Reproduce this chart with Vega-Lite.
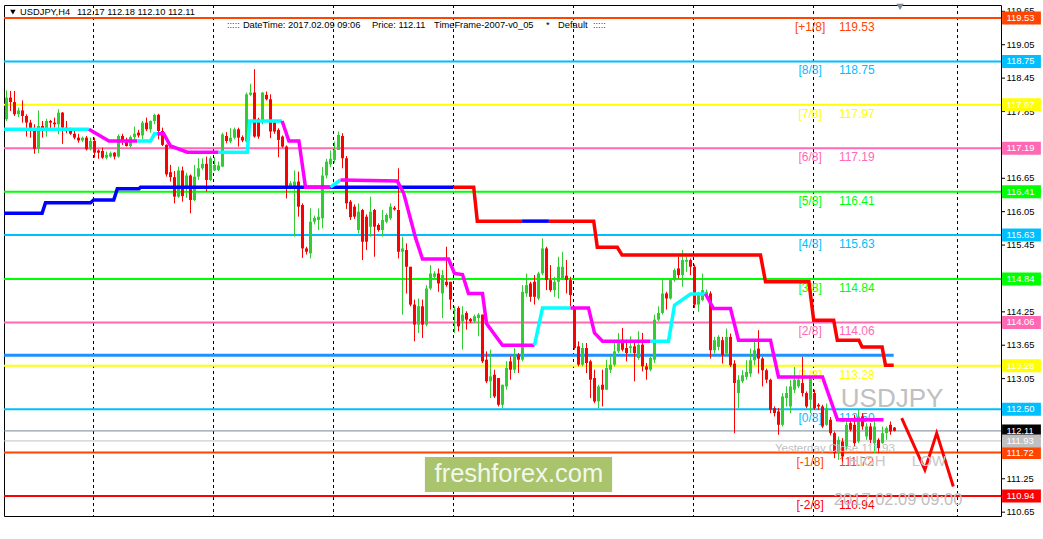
{
"$schema": "https://vega.github.io/schema/vega-lite/v6.json",
"width": 997, "height": 511,
"autosize": {"type": "none"},
"padding": {"left": 4, "top": 5, "right": 42, "bottom": 23},
"background": "#FFFFFF",
"config": {"view": {"stroke": "#000000", "strokeWidth": 1}, "font": "Liberation Sans", "text": {"font": "Liberation Sans"}},
"resolve": {"scale": {"color": "independent"}},
"datasets": {
"weeks": [{"w":21.75},{"w":51.75},{"w":81.75},{"w":111.75},{"w":141.75},{"w":171.75},{"w":201.75},{"w":237.75}],
"yticks": [{"v":110.65},{"v":111.25},{"v":112.45},{"v":113.05},{"v":113.65},{"v":114.25},{"v":115.45},{"v":116.05},{"v":116.65},{"v":117.85},{"v":118.45},{"v":119.05},{"v":119.65}],
"levels": [{"p":119.53,"tag":"[+1/8]"},{"p":118.75,"tag":"[8/8]"},{"p":117.97,"tag":"[7/8]"},{"p":117.19,"tag":"[6/8]"},{"p":116.41,"tag":"[5/8]"},{"p":115.63,"tag":"[4/8]"},{"p":114.84,"tag":"[3/8]"},{"p":114.06,"tag":"[2/8]"},{"p":113.28,"tag":"[1/8]"},{"p":112.50,"tag":"[0/8]"},{"p":111.72,"tag":"[-1/8]"},{"p":110.94,"tag":"[-2/8]"}],
"extra": [{"p":112.11,"tag":"cur"},{"p":111.93,"tag":"yc"}],
"bars": [
{"i":0,"o":117.71,"h":118.23,"l":117.68,"c":118.10},{"i":1,"o":118.10,"h":118.22,"l":117.86,"c":118.02},{"i":2,"o":118.02,"h":118.22,"l":117.77,"c":117.80},{"i":3,"o":117.80,"h":117.92,"l":117.75,"c":117.87},{"i":4,"o":117.87,"h":118.05,"l":117.65,"c":117.77},{"i":5,"o":117.77,"h":117.80,"l":117.40,"c":117.65},{"i":6,"o":117.65,"h":117.70,"l":117.38,"c":117.55},{"i":7,"o":117.55,"h":117.62,"l":117.09,"c":117.18},{"i":8,"o":117.18,"h":117.87,"l":117.10,"c":117.59},{"i":9,"o":117.59,"h":117.68,"l":117.38,"c":117.53},
{"i":10,"o":117.53,"h":117.72,"l":117.40,"c":117.68},{"i":11,"o":117.68,"h":117.70,"l":117.52,"c":117.65},{"i":12,"o":117.65,"h":117.74,"l":117.56,"c":117.62},{"i":13,"o":117.62,"h":117.89,"l":117.44,"c":117.83},{"i":14,"o":117.83,"h":117.84,"l":117.27,"c":117.56},{"i":15,"o":117.56,"h":117.68,"l":117.46,"c":117.53},{"i":16,"o":117.53,"h":117.56,"l":117.43,"c":117.45},{"i":17,"o":117.45,"h":117.50,"l":117.35,"c":117.38},{"i":18,"o":117.38,"h":117.45,"l":117.29,"c":117.33},{"i":19,"o":117.33,"h":117.40,"l":117.30,"c":117.38},
{"i":20,"o":117.38,"h":117.41,"l":117.15,"c":117.17},{"i":21,"o":117.17,"h":117.38,"l":117.15,"c":117.32},{"i":22,"o":117.32,"h":117.38,"l":117.02,"c":117.11},{"i":23,"o":117.15,"h":117.17,"l":117.00,"c":117.11},{"i":24,"o":117.14,"h":117.20,"l":117.00,"c":117.02},{"i":25,"o":117.02,"h":117.13,"l":116.99,"c":117.07},{"i":26,"o":117.04,"h":117.13,"l":117.02,"c":117.10},{"i":27,"o":117.11,"h":117.12,"l":116.99,"c":117.04},{"i":28,"o":117.04,"h":117.44,"l":117.02,"c":117.41},{"i":29,"o":117.41,"h":117.45,"l":117.25,"c":117.32},
{"i":30,"o":117.32,"h":117.38,"l":117.22,"c":117.23},{"i":31,"o":117.23,"h":117.42,"l":117.20,"c":117.39},{"i":32,"o":117.39,"h":117.58,"l":117.35,"c":117.45},{"i":33,"o":117.47,"h":117.52,"l":117.38,"c":117.42},{"i":34,"o":117.42,"h":117.68,"l":117.35,"c":117.65},{"i":35,"o":117.65,"h":117.74,"l":117.50,"c":117.53},{"i":36,"o":117.53,"h":117.69,"l":117.47,"c":117.68},{"i":37,"o":117.68,"h":117.81,"l":117.62,"c":117.79},{"i":38,"o":117.79,"h":117.81,"l":117.35,"c":117.50},{"i":39,"o":117.50,"h":117.56,"l":117.23,"c":117.25},
{"i":40,"o":117.25,"h":117.26,"l":116.68,"c":116.72},{"i":41,"o":116.76,"h":116.89,"l":116.59,"c":116.67},{"i":42,"o":116.67,"h":116.78,"l":116.20,"c":116.32},{"i":43,"o":116.32,"h":116.86,"l":116.30,"c":116.79},{"i":44,"o":116.79,"h":116.86,"l":116.23,"c":116.33},{"i":45,"o":116.50,"h":116.75,"l":116.30,"c":116.70},{"i":46,"o":116.70,"h":116.72,"l":116.02,"c":116.26},{"i":47,"o":116.26,"h":116.89,"l":116.24,"c":116.68},{"i":48,"o":116.68,"h":117.01,"l":116.62,"c":116.83},{"i":49,"o":116.83,"h":117.01,"l":116.80,"c":116.91},
{"i":50,"o":116.91,"h":117.04,"l":116.41,"c":116.62},{"i":51,"o":116.62,"h":117.04,"l":116.60,"c":117.01},{"i":52,"o":116.79,"h":117.03,"l":116.78,"c":116.89},{"i":53,"o":116.80,"h":116.95,"l":116.78,"c":116.88},{"i":54,"o":116.86,"h":117.47,"l":116.85,"c":117.44},{"i":55,"o":117.41,"h":117.48,"l":117.28,"c":117.32},{"i":56,"o":117.31,"h":117.55,"l":117.28,"c":117.38},{"i":57,"o":117.38,"h":117.56,"l":117.35,"c":117.53},{"i":58,"o":117.53,"h":117.56,"l":117.22,"c":117.38},{"i":59,"o":117.39,"h":117.42,"l":117.30,"c":117.33},
{"i":60,"o":117.31,"h":118.19,"l":117.29,"c":118.16},{"i":61,"o":118.15,"h":118.35,"l":118.13,"c":118.19},{"i":62,"o":118.19,"h":118.61,"l":117.38,"c":117.40},{"i":63,"o":117.71,"h":117.74,"l":117.36,"c":117.40},{"i":64,"o":117.68,"h":118.20,"l":117.62,"c":118.19},{"i":65,"o":118.15,"h":118.21,"l":118.05,"c":118.07},{"i":66,"o":118.07,"h":118.16,"l":117.37,"c":117.49},{"i":67,"o":117.65,"h":117.68,"l":117.45,"c":117.49},{"i":68,"o":117.52,"h":117.55,"l":117.03,"c":117.34},{"i":69,"o":117.40,"h":117.42,"l":117.20,"c":117.22},
{"i":70,"o":117.22,"h":117.24,"l":116.29,"c":116.47},{"i":71,"o":116.50,"h":116.60,"l":116.45,"c":116.56},{"i":72,"o":116.50,"h":116.79,"l":115.60,"c":116.59},{"i":73,"o":116.59,"h":116.77,"l":115.96,"c":116.14},{"i":74,"o":116.17,"h":116.20,"l":115.22,"c":115.39},{"i":75,"o":115.39,"h":115.42,"l":115.28,"c":115.33},{"i":76,"o":115.30,"h":116.11,"l":115.21,"c":115.87},{"i":77,"o":115.87,"h":115.98,"l":115.82,"c":115.94},{"i":78,"o":115.90,"h":116.11,"l":115.72,"c":115.96},{"i":79,"o":115.93,"h":116.85,"l":115.75,"c":116.70},
{"i":80,"o":116.70,"h":117.00,"l":116.65,"c":116.95},{"i":81,"o":116.90,"h":117.15,"l":116.85,"c":117.00},{"i":82,"o":116.98,"h":117.31,"l":116.93,"c":117.16},{"i":83,"o":117.16,"h":117.49,"l":117.16,"c":117.43},{"i":84,"o":117.41,"h":117.46,"l":116.83,"c":117.01},{"i":85,"o":117.01,"h":117.05,"l":116.10,"c":116.20},{"i":86,"o":116.23,"h":116.26,"l":115.90,"c":115.95},{"i":87,"o":116.14,"h":116.18,"l":115.92,"c":115.96},{"i":88,"o":115.72,"h":116.20,"l":115.66,"c":116.05},{"i":89,"o":116.08,"h":116.10,"l":115.18,"c":115.51},
{"i":90,"o":115.96,"h":116.00,"l":115.36,"c":115.51},{"i":91,"o":115.78,"h":116.32,"l":115.60,"c":116.05},{"i":92,"o":116.08,"h":116.10,"l":115.24,"c":115.78},{"i":93,"o":115.81,"h":115.84,"l":115.69,"c":115.72},{"i":94,"o":115.72,"h":116.08,"l":115.60,"c":115.90},{"i":95,"o":115.87,"h":116.02,"l":115.84,"c":115.99},{"i":96,"o":115.93,"h":116.20,"l":115.90,"c":116.14},{"i":97,"o":116.12,"h":116.15,"l":116.07,"c":116.09},{"i":98,"o":116.08,"h":116.83,"l":115.21,"c":115.33},{"i":99,"o":115.33,"h":115.60,"l":114.20,"c":115.39},
{"i":100,"o":115.36,"h":115.48,"l":114.58,"c":115.06},{"i":101,"o":115.06,"h":115.06,"l":114.35,"c":114.38},{"i":102,"o":114.38,"h":114.47,"l":113.72,"c":114.02},{"i":103,"o":114.02,"h":114.49,"l":113.87,"c":114.35},{"i":104,"o":114.35,"h":114.47,"l":113.78,"c":114.02},{"i":105,"o":114.02,"h":114.73,"l":113.99,"c":114.67},{"i":106,"o":114.67,"h":115.09,"l":114.64,"c":114.94},{"i":107,"o":114.88,"h":114.98,"l":114.85,"c":114.94},{"i":108,"o":114.94,"h":115.03,"l":114.61,"c":114.76},{"i":109,"o":114.58,"h":115.00,"l":114.14,"c":114.91},
{"i":110,"o":114.79,"h":115.42,"l":114.70,"c":114.73},{"i":111,"o":114.79,"h":114.79,"l":114.29,"c":114.47},{"i":112,"o":114.27,"h":114.35,"l":113.87,"c":114.29},{"i":113,"o":114.32,"h":114.35,"l":113.90,"c":113.99},{"i":114,"o":114.08,"h":114.35,"l":113.57,"c":114.20},{"i":115,"o":114.23,"h":114.26,"l":113.93,"c":114.11},{"i":116,"o":114.12,"h":114.14,"l":114.05,"c":114.08},{"i":117,"o":114.08,"h":114.20,"l":114.05,"c":114.17},{"i":118,"o":114.14,"h":114.23,"l":113.81,"c":114.20},{"i":119,"o":114.20,"h":114.20,"l":113.33,"c":113.36},
{"i":120,"o":113.39,"h":113.54,"l":112.97,"c":113.00},{"i":121,"o":113.00,"h":113.57,"l":112.70,"c":113.09},{"i":122,"o":113.12,"h":113.21,"l":112.70,"c":112.73},{"i":123,"o":113.06,"h":113.06,"l":112.55,"c":112.58},{"i":124,"o":112.58,"h":112.94,"l":112.52,"c":112.94},{"i":125,"o":112.91,"h":113.36,"l":112.85,"c":113.24},{"i":126,"o":113.36,"h":113.45,"l":113.03,"c":113.21},{"i":127,"o":113.21,"h":113.60,"l":113.15,"c":113.45},{"i":128,"o":113.48,"h":113.51,"l":113.15,"c":113.39},{"i":129,"o":113.39,"h":114.73,"l":113.36,"c":114.61},
{"i":130,"o":114.58,"h":114.94,"l":114.52,"c":114.73},{"i":131,"o":114.76,"h":114.79,"l":114.43,"c":114.52},{"i":132,"o":114.79,"h":114.91,"l":114.38,"c":114.52},{"i":133,"o":114.49,"h":114.97,"l":114.46,"c":114.94},{"i":134,"o":114.94,"h":115.57,"l":114.91,"c":115.39},{"i":135,"o":115.39,"h":115.42,"l":114.64,"c":114.82},{"i":136,"o":114.82,"h":115.09,"l":114.61,"c":114.64},{"i":137,"o":114.64,"h":114.88,"l":114.52,"c":114.79},{"i":138,"o":114.79,"h":115.24,"l":114.49,"c":115.06},{"i":139,"o":114.85,"h":115.33,"l":114.82,"c":115.06},
{"i":140,"o":114.90,"h":115.18,"l":114.58,"c":114.82},{"i":141,"o":114.82,"h":114.88,"l":114.35,"c":114.55},{"i":142,"o":114.32,"h":114.35,"l":113.57,"c":113.60},{"i":143,"o":113.63,"h":113.72,"l":113.27,"c":113.30},{"i":144,"o":113.30,"h":113.69,"l":113.27,"c":113.60},{"i":145,"o":113.60,"h":113.69,"l":113.15,"c":113.33},{"i":146,"o":113.36,"h":113.39,"l":112.70,"c":113.03},{"i":147,"o":113.06,"h":113.21,"l":112.61,"c":112.64},{"i":148,"o":112.64,"h":112.94,"l":112.52,"c":112.91},{"i":149,"o":112.94,"h":113.21,"l":112.55,"c":112.85},
{"i":150,"o":112.85,"h":113.39,"l":112.85,"c":113.24},{"i":151,"o":113.21,"h":113.45,"l":113.15,"c":113.30},{"i":152,"o":113.30,"h":113.72,"l":113.27,"c":113.54},{"i":153,"o":113.54,"h":113.87,"l":113.51,"c":113.72},{"i":154,"o":113.75,"h":113.96,"l":113.54,"c":113.57},{"i":155,"o":113.60,"h":113.75,"l":113.36,"c":113.51},{"i":156,"o":113.60,"h":113.81,"l":113.51,"c":113.63},{"i":157,"o":113.63,"h":113.72,"l":113.00,"c":113.51},{"i":158,"o":113.42,"h":113.90,"l":113.39,"c":113.66},{"i":159,"o":113.66,"h":113.87,"l":113.18,"c":113.27},
{"i":160,"o":113.27,"h":113.33,"l":113.03,"c":113.21},{"i":161,"o":113.21,"h":113.45,"l":113.18,"c":113.42},{"i":162,"o":113.39,"h":114.20,"l":113.33,"c":114.11},{"i":163,"o":114.11,"h":114.35,"l":114.08,"c":114.23},{"i":164,"o":114.23,"h":114.82,"l":114.20,"c":114.58},{"i":165,"o":114.58,"h":114.61,"l":114.29,"c":114.49},{"i":166,"o":114.49,"h":114.85,"l":114.47,"c":114.82},{"i":167,"o":114.82,"h":115.03,"l":114.79,"c":115.00},{"i":168,"o":115.03,"h":115.24,"l":114.85,"c":114.91},{"i":169,"o":114.91,"h":115.36,"l":114.70,"c":115.18},
{"i":170,"o":115.15,"h":115.24,"l":114.97,"c":115.18},{"i":171,"o":115.18,"h":115.21,"l":114.91,"c":115.06},{"i":172,"o":115.06,"h":115.10,"l":114.32,"c":114.38},{"i":173,"o":114.38,"h":114.61,"l":114.25,"c":114.56},{"i":174,"o":114.46,"h":114.94,"l":114.44,"c":114.64},{"i":175,"o":114.55,"h":114.65,"l":114.52,"c":114.61},{"i":176,"o":114.58,"h":114.62,"l":113.41,"c":113.56},{"i":177,"o":113.56,"h":113.80,"l":113.50,"c":113.74},{"i":178,"o":113.62,"h":113.83,"l":113.56,"c":113.80},{"i":179,"o":113.74,"h":113.80,"l":113.32,"c":113.47},
{"i":180,"o":113.50,"h":113.95,"l":113.47,"c":113.80},{"i":181,"o":113.80,"h":113.86,"l":113.26,"c":113.29},{"i":182,"o":113.32,"h":113.38,"l":112.07,"c":112.97},{"i":183,"o":112.79,"h":113.11,"l":112.52,"c":113.03},{"i":184,"o":113.00,"h":113.20,"l":112.97,"c":113.11},{"i":185,"o":113.08,"h":113.38,"l":113.03,"c":113.17},{"i":186,"o":113.14,"h":113.59,"l":113.08,"c":113.38},{"i":187,"o":113.38,"h":113.74,"l":113.29,"c":113.56},{"i":188,"o":113.59,"h":113.92,"l":113.14,"c":113.41},{"i":189,"o":113.41,"h":113.44,"l":112.91,"c":113.20},
{"i":190,"o":113.20,"h":113.23,"l":112.97,"c":113.03},{"i":191,"o":113.03,"h":113.05,"l":112.43,"c":112.49},{"i":192,"o":112.52,"h":112.55,"l":112.37,"c":112.43},{"i":193,"o":112.46,"h":112.52,"l":112.04,"c":112.22},{"i":194,"o":112.22,"h":112.79,"l":112.19,"c":112.73},{"i":195,"o":112.70,"h":112.91,"l":112.55,"c":112.79},{"i":196,"o":112.55,"h":113.03,"l":112.43,"c":112.91},{"i":197,"o":112.85,"h":113.26,"l":112.79,"c":113.03},{"i":198,"o":112.91,"h":113.08,"l":112.88,"c":113.03},{"i":199,"o":112.97,"h":113.44,"l":112.73,"c":112.79},
{"i":200,"o":112.79,"h":112.82,"l":112.52,"c":112.55},{"i":201,"o":112.67,"h":113.08,"l":112.43,"c":113.05},{"i":202,"o":112.79,"h":112.85,"l":112.49,"c":112.52},{"i":203,"o":112.58,"h":112.61,"l":112.49,"c":112.55},{"i":204,"o":112.55,"h":112.58,"l":112.16,"c":112.19},{"i":205,"o":112.22,"h":112.60,"l":112.20,"c":112.52},{"i":206,"o":112.31,"h":112.36,"l":112.03,"c":112.07},{"i":207,"o":112.07,"h":112.10,"l":111.62,"c":111.71},{"i":208,"o":111.71,"h":112.01,"l":111.59,"c":111.95},{"i":209,"o":111.92,"h":111.98,"l":111.56,"c":111.65},
{"i":210,"o":111.83,"h":112.28,"l":111.77,"c":112.22},{"i":211,"o":112.25,"h":112.30,"l":112.10,"c":112.13},{"i":212,"o":112.22,"h":112.40,"l":111.83,"c":111.89},{"i":213,"o":111.92,"h":112.49,"l":111.89,"c":112.37},{"i":214,"o":112.37,"h":112.43,"l":112.13,"c":112.19},{"i":215,"o":112.01,"h":112.25,"l":111.95,"c":112.19},{"i":216,"o":112.19,"h":112.25,"l":111.89,"c":111.95},{"i":217,"o":111.89,"h":112.31,"l":111.71,"c":112.19},{"i":218,"o":111.95,"h":111.98,"l":111.71,"c":111.80},{"i":219,"o":111.89,"h":112.19,"l":111.88,"c":112.07},
{"i":220,"o":112.07,"h":112.19,"l":111.95,"c":112.16},{"i":221,"o":112.22,"h":112.28,"l":112.04,"c":112.10},{"i":222,"o":112.17,"h":112.18,"l":112.10,"c":112.11}
],
"lineA": [
{"i":-0.6,"v":116.02,"t":"up","s":"a1"},{"i":8.9,"v":116.02,"t":"up","s":"a1"},{"i":9.75,"v":116.21,"t":"up","s":"a1"},{"i":21,"v":116.21,"t":"up","s":"a1"},{"i":21.8,"v":116.26,"t":"up","s":"a1"},{"i":26.8,"v":116.26,"t":"up","s":"a1"},{"i":27.7,"v":116.46,"t":"up","s":"a1"},{"i":33.1,"v":116.46,"t":"up","s":"a1"},{"i":33.5,"v":116.49,"t":"up","s":"a1"},{"i":111.75,"v":116.49,"t":"up","s":"a1"},
{"i":111.75,"v":116.49,"t":"dn","s":"a2"},{"i":116.8,"v":116.49,"t":"dn","s":"a2"},{"i":117.7,"v":115.88,"t":"dn","s":"a2"},{"i":128.9,"v":115.88,"t":"dn","s":"a2"},
{"i":128.9,"v":115.88,"t":"up","s":"a3"},{"i":135.6,"v":115.88,"t":"up","s":"a3"},
{"i":135.6,"v":115.88,"t":"dn","s":"a4"},{"i":146.8,"v":115.88,"t":"dn","s":"a4"},{"i":147.7,"v":115.41,"t":"dn","s":"a4"},{"i":152.7,"v":115.41,"t":"dn","s":"a4"},{"i":153.9,"v":115.27,"t":"dn","s":"a4"},{"i":188.5,"v":115.27,"t":"dn","s":"a4"},{"i":189.75,"v":114.79,"t":"dn","s":"a4"},{"i":200.6,"v":114.79,"t":"dn","s":"a4"},{"i":201.8,"v":114.10,"t":"dn","s":"a4"},{"i":206.8,"v":114.10,"t":"dn","s":"a4"},{"i":207.7,"v":113.74,"t":"dn","s":"a4"},{"i":213.1,"v":113.74,"t":"dn","s":"a4"},{"i":213.9,"v":113.62,"t":"dn","s":"a4"},{"i":218.9,"v":113.62,"t":"dn","s":"a4"},{"i":219.75,"v":113.29,"t":"dn","s":"a4"},{"i":221.8,"v":113.29,"t":"dn","s":"a4"}
],
"lineB": [
{"i":-0.6,"v":117.53,"t":"up","s":"b1"},{"i":20.6,"v":117.53,"t":"up","s":"b1"},
{"i":20.6,"v":117.53,"t":"dn","s":"b2"},{"i":25.6,"v":117.32,"t":"dn","s":"b2"},{"i":32.7,"v":117.32,"t":"dn","s":"b2"},
{"i":32.7,"v":117.32,"t":"up","s":"b3"},{"i":36,"v":117.32,"t":"up","s":"b3"},{"i":37,"v":117.45,"t":"up","s":"b3"},{"i":37.7,"v":117.45,"t":"up","s":"b3"},
{"i":37.7,"v":117.45,"t":"dn","s":"b4"},{"i":39.3,"v":117.45,"t":"dn","s":"b4"},{"i":41,"v":117.23,"t":"dn","s":"b4"},{"i":45.2,"v":117.12,"t":"dn","s":"b4"},{"i":53,"v":117.12,"t":"dn","s":"b4"},
{"i":53,"v":117.12,"t":"up","s":"b5"},{"i":60.2,"v":117.12,"t":"up","s":"b5"},{"i":60.8,"v":117.68,"t":"up","s":"b5"},{"i":68.9,"v":117.68,"t":"up","s":"b5"},
{"i":68.9,"v":117.68,"t":"dn","s":"b6"},{"i":70.6,"v":117.32,"t":"dn","s":"b6"},{"i":73.1,"v":117.32,"t":"dn","s":"b6"},{"i":74.75,"v":116.49,"t":"dn","s":"b6"},{"i":81,"v":116.49,"t":"dn","s":"b6"},
{"i":81,"v":116.49,"t":"up","s":"b7"},{"i":83.5,"v":116.62,"t":"up","s":"b7"},
{"i":83.5,"v":116.62,"t":"dn","s":"b8"},{"i":97.7,"v":116.60,"t":"dn","s":"b8"},{"i":99.3,"v":116.38,"t":"dn","s":"b8"},{"i":102.3,"v":115.57,"t":"dn","s":"b8"},{"i":104,"v":115.20,"t":"dn","s":"b8"},{"i":110.5,"v":115.20,"t":"dn","s":"b8"},{"i":112,"v":114.94,"t":"dn","s":"b8"},{"i":114,"v":114.92,"t":"dn","s":"b8"},{"i":115.5,"v":114.58,"t":"dn","s":"b8"},{"i":119,"v":114.58,"t":"dn","s":"b8"},{"i":120,"v":114.04,"t":"dn","s":"b8"},{"i":124,"v":113.65,"t":"dn","s":"b8"},{"i":132,"v":113.65,"t":"dn","s":"b8"},
{"i":132,"v":113.65,"t":"up","s":"b9"},{"i":134,"v":114.32,"t":"up","s":"b9"},{"i":141,"v":114.32,"t":"up","s":"b9"},
{"i":141,"v":114.32,"t":"dn","s":"b10"},{"i":145.5,"v":114.32,"t":"dn","s":"b10"},{"i":147,"v":113.87,"t":"dn","s":"b10"},{"i":149,"v":113.72,"t":"dn","s":"b10"},{"i":161,"v":113.72,"t":"dn","s":"b10"},
{"i":161,"v":113.72,"t":"up","s":"b11"},{"i":165.5,"v":113.72,"t":"up","s":"b11"},{"i":167,"v":114.37,"t":"up","s":"b11"},{"i":171,"v":114.57,"t":"up","s":"b11"},{"i":174.75,"v":114.57,"t":"up","s":"b11"},
{"i":174.75,"v":114.57,"t":"dn","s":"b12"},{"i":176.75,"v":114.31,"t":"dn","s":"b12"},{"i":181,"v":114.31,"t":"dn","s":"b12"},{"i":183,"v":113.74,"t":"dn","s":"b12"},{"i":191,"v":113.74,"t":"dn","s":"b12"},{"i":193,"v":113.08,"t":"dn","s":"b12"},{"i":204,"v":113.08,"t":"dn","s":"b12"},{"i":207.75,"v":112.31,"t":"dn","s":"b12"},{"i":219.25,"v":112.31,"t":"dn","s":"b12"}
],
"zig": [{"i":223.8,"v":112.34},{"i":229.6,"v":111.41},{"i":232.55,"v":112.07},{"i":236.7,"v":111.11}],
"header": [{"t":"USDJPY,H4","i":3.4,"v":119.638},{"t":"112.17 112.18 112.10 112.11","i":17.6,"v":119.638},{"t":"DateTime: 2017.02.09 09:06","i":59.1,"v":119.404},{"t":"Price: 112.11","i":91.4,"v":119.404},{"t":"TimeFrame-2007-v0_05","i":106.9,"v":119.404},{"t":"*","i":134.9,"v":119.404},{"t":"Default","i":137.9,"v":119.404}],
"colons": [{"t":":::::","i":55.1,"v":119.404},{"t":":::::","i":146.6,"v":119.404}]
},
"layer": [
{"data":{"name":"weeks"},"mark":{"type":"rule","strokeDash":[3,3],"color":"#000000","strokeWidth":1},
 "encoding":{"x":{"field":"w","type":"quantitative","scale":{"domain":[-0.625,248.625],"nice":false,"zero":false},
  "axis":{"values":[-0.25,15.75,31.75,47.75,63.75,79.75,95.75,111.75,127.75,143.75,159.75,175.75,191.75,207.75],
   "labelExpr":"['20 Dec 2016','23 Dec 00:00','27 Dec 16:00','30 Dec 08:00','4 Jan 00:00','6 Jan 16:00','11 Jan 08:00','16 Jan 00:00','18 Jan 16:00','23 Jan 08:00','26 Jan 00:00','30 Jan 16:00','2 Feb 08:00','7 Feb 00:00'][round((datum.value+0.25)/16)]",
   "title":null,"grid":false,"labelAlign":"left","labelBaseline":"top","labelPadding":2,"labelOffset":0.5,"tickSize":4,"labelFont":"Liberation Sans","labelFontSize":9.2,"labelColor":"#000000","tickColor":"#000000","domainColor":"#000000","labelFlush":false,"labelOverlap":false,"labelBound":false}}}},
{"data":{"name":"levels"},"mark":{"type":"rule","strokeWidth":2},
 "encoding":{"y":{"field":"p","type":"quantitative","scale":{"domain":[110.581,119.764],"nice":false,"zero":false},"axis":null},
  "color":{"field":"tag","type":"nominal","scale":{"domain":["[+1/8]","[8/8]","[7/8]","[6/8]","[5/8]","[4/8]","[3/8]","[2/8]","[1/8]","[0/8]","[-1/8]","[-2/8]"],"range":["#FF4500","#00BFFF","#FFFF00","#FF69B4","#00FF00","#00BFFF","#00FF00","#FF69B4","#FFFF00","#00BFFF","#FF4500","#FF0000"]},"legend":null}}},
{"data":{"name":"yticks"},"mark":{"type":"rule","strokeWidth":1,"color":"#000000"},
 "encoding":{"x":{"datum":248.625,"type":"quantitative","axis":null},"x2":{"datum":249.625},"y":{"field":"v","type":"quantitative","axis":null}}},
{"data":{"name":"yticks"},"mark":{"type":"text","fontSize":9.4,"color":"#000000","align":"left","baseline":"middle","font":"Liberation Sans"},
 "encoding":{"x":{"datum":250.0,"type":"quantitative","axis":null},"y":{"field":"v","type":"quantitative","axis":null},"text":{"field":"v","type":"quantitative","format":".2f"}}},
{"data":{"name":"extra"},"mark":{"type":"rule","strokeWidth":1},
 "encoding":{"y":{"field":"p","type":"quantitative","axis":null},"color":{"field":"tag","type":"nominal","scale":{"domain":["cur","yc"],"range":["#778899","#C0C0C0"]},"legend":null}}},
{"data":{"values":[{"p":113.47,"a":-0.6,"b":221.8}]},"mark":{"type":"rule","strokeWidth":3,"color":"#1E90FF"},
 "encoding":{"x":{"field":"a","type":"quantitative","axis":null},"x2":{"field":"b"},"y":{"field":"p","type":"quantitative","axis":null}}},
{"data":{"name":"levels"},"mark":{"type":"text","dy":9,"fontSize":12,"align":"center","baseline":"middle","font":"Liberation Sans"},
 "encoding":{"x":{"datum":200.9,"type":"quantitative","axis":null},"y":{"field":"p","type":"quantitative","axis":null},"text":{"field":"tag"},
  "color":{"field":"tag","type":"nominal","scale":{"domain":["[+1/8]","[8/8]","[7/8]","[6/8]","[5/8]","[4/8]","[3/8]","[2/8]","[1/8]","[0/8]","[-1/8]","[-2/8]"],"range":["#FF4500","#00BFFF","#FFFF00","#FF69B4","#00FF00","#00BFFF","#00FF00","#FF69B4","#FFFF00","#00BFFF","#FF4500","#FF0000"]},"legend":null}}},
{"data":{"name":"levels"},"mark":{"type":"text","dy":9,"fontSize":12,"align":"left","baseline":"middle","font":"Liberation Sans"},
 "encoding":{"x":{"datum":208.1,"type":"quantitative","axis":null},"y":{"field":"p","type":"quantitative","axis":null},"text":{"field":"p","type":"quantitative","format":".2f"},
  "color":{"field":"tag","type":"nominal","scale":{"domain":["[+1/8]","[8/8]","[7/8]","[6/8]","[5/8]","[4/8]","[3/8]","[2/8]","[1/8]","[0/8]","[-1/8]","[-2/8]"],"range":["#FF4500","#00BFFF","#FFFF00","#FF69B4","#00FF00","#00BFFF","#00FF00","#FF69B4","#FFFF00","#00BFFF","#FF4500","#FF0000"]},"legend":null}}},
{"data":{"name":"bars"},"mark":{"type":"rule","strokeWidth":1},
 "encoding":{"x":{"field":"i","type":"quantitative","axis":null},"y":{"field":"l","type":"quantitative","axis":null},"y2":{"field":"h"},
  "color":{"condition":{"test":"datum.c >= datum.o","value":"#32CD32"},"value":"#FF0000"}}},
{"data":{"name":"bars"},"mark":{"type":"rule","strokeWidth":3},
 "encoding":{"x":{"field":"i","type":"quantitative","axis":null},"y":{"field":"o","type":"quantitative","axis":null},"y2":{"field":"c"},
  "color":{"condition":{"test":"datum.c >= datum.o","value":"#32CD32"},"value":"#FF0000"}}},
{"data":{"name":"lineA"},"mark":{"type":"line","strokeWidth":3.5},
 "encoding":{"x":{"field":"i","type":"quantitative","axis":null},"y":{"field":"v","type":"quantitative","axis":null},"detail":{"field":"s"},
  "color":{"field":"t","type":"nominal","scale":{"domain":["up","dn"],"range":["#0000FF","#FF0000"]},"legend":null}}},
{"data":{"name":"lineB"},"mark":{"type":"line","strokeWidth":3.5},
 "encoding":{"x":{"field":"i","type":"quantitative","axis":null},"y":{"field":"v","type":"quantitative","axis":null},"detail":{"field":"s"},
  "color":{"field":"t","type":"nominal","scale":{"domain":["up","dn"],"range":["#00FFFF","#FF00FF"]},"legend":null}}},
{"data":{"name":"zig"},"mark":{"type":"line","strokeWidth":3,"color":"#FF0000"},
 "encoding":{"x":{"field":"i","type":"quantitative","axis":null},"y":{"field":"v","type":"quantitative","axis":null}}},
{"data":{"values":[{"t":"USDJPY","i":221.4,"v":112.68}]},"mark":{"type":"text","fontSize":26,"color":"#C0C0C0","align":"center","baseline":"middle","font":"Liberation Sans"},
 "encoding":{"x":{"field":"i","type":"quantitative","axis":null},"y":{"field":"v","type":"quantitative","axis":null},"text":{"field":"t"}}},
{"data":{"values":[{"t":"Yesterday Close 111.93","i":207.1,"v":111.79}]},"mark":{"type":"text","fontSize":11.5,"color":"#C0C0C0","align":"center","baseline":"middle","font":"Liberation Sans"},
 "encoding":{"x":{"field":"i","type":"quantitative","axis":null},"y":{"field":"v","type":"quantitative","axis":null},"text":{"field":"t"}}},
{"data":{"values":[{"t":"HIGH","i":215.1,"v":111.57},{"t":"LOW","i":230.6,"v":111.57}]},"mark":{"type":"text","fontSize":15,"color":"#C8C8C8","align":"center","baseline":"middle","font":"Liberation Sans"},
 "encoding":{"x":{"field":"i","type":"quantitative","axis":null},"y":{"field":"v","type":"quantitative","axis":null},"text":{"field":"t"}}},
{"data":{"values":[{"t":"2017.02.09 09:00","i":222.9,"v":110.87}]},"mark":{"type":"text","fontSize":16.5,"color":"#C0C0C0","align":"center","baseline":"middle","font":"Liberation Sans"},
 "encoding":{"x":{"field":"i","type":"quantitative","axis":null},"y":{"field":"v","type":"quantitative","axis":null},"text":{"field":"t"}}},
{"data":{"name":"levels"},"mark":{"type":"rule","strokeWidth":13,"strokeCap":"butt"},
 "encoding":{"x":{"datum":248.9,"type":"quantitative","axis":null},"x2":{"datum":258.6},"y":{"field":"p","type":"quantitative","axis":null},
  "color":{"field":"tag","type":"nominal","scale":{"domain":["[+1/8]","[8/8]","[7/8]","[6/8]","[5/8]","[4/8]","[3/8]","[2/8]","[1/8]","[0/8]","[-1/8]","[-2/8]"],"range":["#FF4500","#00BFFF","#FFFF00","#FF69B4","#00FF00","#00BFFF","#00FF00","#FF69B4","#FFFF00","#00BFFF","#FF4500","#FF0000"]},"legend":null}}},
{"data":{"name":"extra"},"mark":{"type":"rule","strokeWidth":13,"strokeCap":"butt"},
 "encoding":{"x":{"datum":248.9,"type":"quantitative","axis":null},"x2":{"datum":258.6},"y":{"field":"p","type":"quantitative","axis":null},
  "color":{"field":"tag","type":"nominal","scale":{"domain":["cur","yc"],"range":["#000000","#C0C0C0"]},"legend":null}}},
{"data":{"name":"levels"},"mark":{"type":"text","fontSize":9.4,"color":"#FFFFFF","align":"left","baseline":"middle","font":"Liberation Sans"},
 "encoding":{"x":{"datum":250.0,"type":"quantitative","axis":null},"y":{"field":"p","type":"quantitative","axis":null},"text":{"field":"p","type":"quantitative","format":".2f"}}},
{"data":{"name":"extra"},"mark":{"type":"text","fontSize":9.4,"color":"#FFFFFF","align":"left","baseline":"middle","font":"Liberation Sans"},
 "encoding":{"x":{"datum":250.0,"type":"quantitative","axis":null},"y":{"field":"p","type":"quantitative","axis":null},"text":{"field":"p","type":"quantitative","format":".2f"}}},
{"data":{"name":"header"},"mark":{"type":"text","fontSize":9.3,"color":"#000000","align":"left","baseline":"middle","font":"Liberation Sans"},
 "encoding":{"x":{"field":"i","type":"quantitative","axis":null},"y":{"field":"v","type":"quantitative","axis":null},"text":{"field":"t"}}},
{"data":{"name":"colons"},"mark":{"type":"text","fontSize":9.3,"color":"#800080","align":"left","baseline":"middle","font":"Liberation Sans"},
 "encoding":{"x":{"field":"i","type":"quantitative","axis":null},"y":{"field":"v","type":"quantitative","axis":null},"text":{"field":"t"}}},
{"data":{"values":[{"i":1.6,"v":119.638}]},"mark":{"type":"point","shape":"triangle-down","filled":true,"size":30,"color":"#000000","opacity":1},
 "encoding":{"x":{"field":"i","type":"quantitative","axis":null},"y":{"field":"v","type":"quantitative","axis":null}}},
{"data":{"values":[{"i":223.4,"v":119.73}]},"mark":{"type":"point","shape":"triangle-down","filled":true,"size":55,"color":"#7F8C99","opacity":1},
 "encoding":{"x":{"field":"i","type":"quantitative","axis":null},"y":{"field":"v","type":"quantitative","axis":null}}},
{"data":{"values":[{"a":104.6,"b":151.4,"lo":111.013,"hi":111.641}]},"mark":{"type":"rect","color":"#A9C46C"},
 "encoding":{"x":{"field":"a","type":"quantitative","axis":null},"x2":{"field":"b"},"y":{"field":"hi","type":"quantitative","axis":null},"y2":{"field":"lo"}}},
{"data":{"values":[{"t":"freshforex.com","m":128.1,"mv":111.327}]},"mark":{"type":"text","fontSize":25.5,"color":"#F4F8EC","align":"center","baseline":"middle","font":"Liberation Sans"},
 "encoding":{"x":{"field":"m","type":"quantitative","axis":null},"y":{"field":"mv","type":"quantitative","axis":null},"text":{"field":"t"}}}
]
}
